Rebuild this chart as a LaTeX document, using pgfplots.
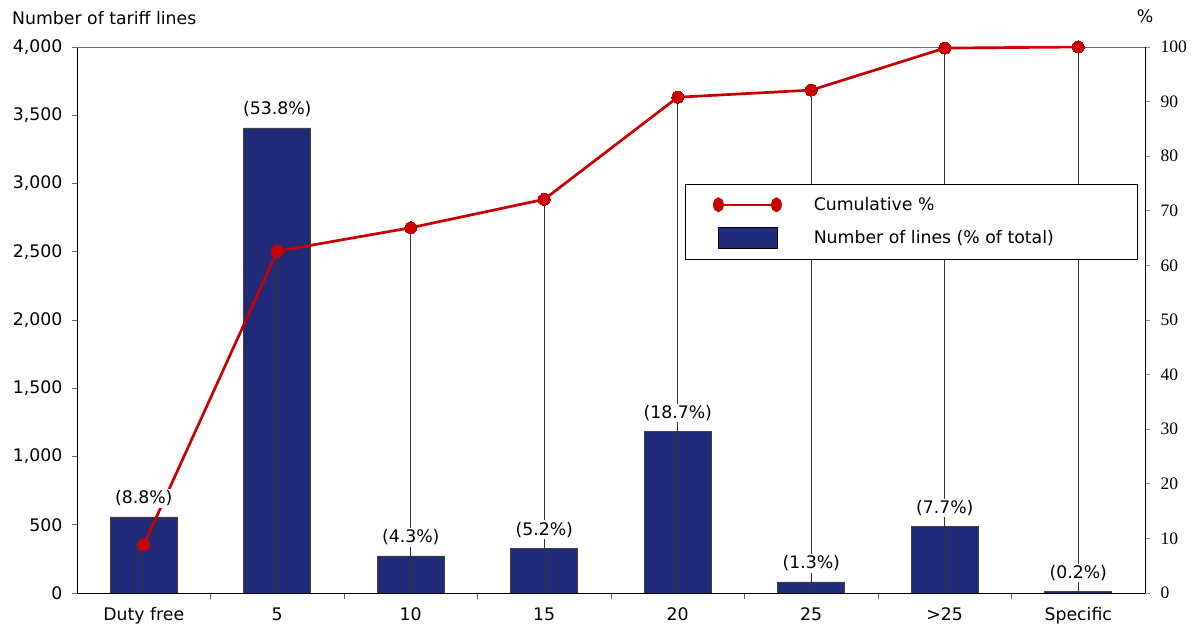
\documentclass[border=0pt]{standalone}
\usepackage{pgfplots}
\pgfplotsset{compat=1.18}
\usepackage{fontspec}
\setmainfont{DejaVu Sans}
\newfontfamily\serifnum{Liberation Serif}
\newcommand\fs{\fontsize{17.3}{20}\selectfont}
\definecolor{cnavy}{RGB}{32,42,120}
\definecolor{cred}{RGB}{200,0,0}
\begin{document}
\begin{tikzpicture}
\useasboundingbox (0pt,0pt) rectangle (1192pt,627pt);
\pgfplotsset{base/.style={
  at={(77pt,34pt)}, anchor=south west, scale only axis,
  width=1068pt, height=546pt, xmin=-0.5, xmax=7.5,
  font=\fs, tick align=outside, major tick length=5pt, minor tick length=6pt,
}}
% Axis 1: bars
\begin{axis}[base, ymin=0, ymax=4000,
  axis y line*=left, axis x line*=bottom,
  axis line style={black, line width=0.8pt},
  ytick={0,500,...,4000}, scaled y ticks=false,
  yticklabel style={/pgf/number format/1000 sep={,}, /pgf/number format/assume math mode=true},
  y tick label style={font=\fs, xshift=-6pt},
  y tick style={black!60, line width=0.8pt},
  xtick={0,...,7}, xticklabels={Duty free,5,10,15,20,25,{>25},Specific},
  x tick label style={font=\fs, yshift=-6pt},
  major x tick style={draw=none},
  minor xtick={0.5,1.5,...,6.5}, minor x tick style={black!60, line width=0.8pt},
  ylabel={Number of tariff lines},
  every axis y label/.style={at={(rel axis cs:0,1)}, anchor=base west, inner sep=0pt, xshift=-65pt, yshift=22pt, font=\fs},
]
\addplot[ybar, bar width=67pt, fill=cnavy, draw=black!75, line width=0.6pt] coordinates {
(0,557) (1,3407) (2,272) (3,329) (4,1184) (5,82) (6,488) (7,13)};
\end{axis}
% Axis 2: cumulative line, drop lines, legend
\begin{axis}[base, ymin=0, ymax=100,
  axis y line*=right, axis x line*=top,
  y axis line style={black, line width=0.8pt},
  x axis line style={black!55, line width=0.8pt},
  xtick=\empty,
  ytick={0,10,...,100},
  yticklabel style={font=\fontsize{17.5}{19}\serifnum, xshift=7pt, /pgf/number format/assume math mode=true},
  y tick style={black!45, line width=0.8pt},
  ylabel={\%},
  every axis y label/.style={at={(rel axis cs:1,1)}, anchor=base, inner sep=0pt, yshift=24pt, font=\fs},
  legend style={at={(0.569,0.749)}, anchor=north west, draw=black, line width=0.8pt, fill=white,
    inner xsep=28pt, inner ysep=11pt, row sep=13pt, font=\fs,
    /tikz/every odd column/.append style={column sep=30pt}},
  legend cell align=left,
]
\addplot[ycomb, black!80, line width=0.7pt, mark=none, forget plot] coordinates {
(0,8.8) (1,62.6) (2,66.9) (3,72.1) (4,90.8) (5,92.1) (6,99.8) (7,100)};
\addplot[cred, line width=2.7pt, mark=*, mark size=6pt, mark options={fill=cred, draw=cred, line width=0pt},
  legend image code/.code={
    \draw[cred, line width=2.5pt] (0pt,0pt) -- (58pt,0pt);
    \fill[cred] (0pt,0pt) ellipse (4pt and 6pt);
    \fill[cred] (58pt,0pt) ellipse (4pt and 6pt);}
] coordinates {
(0,8.8) (1,62.6) (2,66.9) (3,72.1) (4,90.8) (5,92.1) (6,99.8) (7,100)};
\addlegendentry{\makebox[294pt][l]{Cumulative \%}}
\addlegendimage{legend image code/.code={
    \draw[fill=cnavy, draw=black, line width=0.8pt] (0pt,-10.5pt) rectangle (59pt,10.5pt);}}
\addlegendentry{\makebox[294pt][l]{Number of lines (\% of total)}}
\end{axis}
% Axis 3: bar labels on top
\begin{axis}[base, ymin=0, ymax=4000, hide axis]
\addplot[draw=none, mark=none, nodes near coords, point meta=explicit symbolic,
  nodes near coords style={fill=white, inner sep=1.5pt, anchor=south, yshift=9pt, font=\fs, text=black}]
coordinates {
(0,557) [(8.8\%)]
(1,3407) [(53.8\%)]
(2,272) [(4.3\%)]
(3,329) [(5.2\%)]
(4,1184) [(18.7\%)]
(5,82) [(1.3\%)]
(6,488) [(7.7\%)]
(7,13) [(0.2\%)]
};
\end{axis}
\end{tikzpicture}
\end{document}
